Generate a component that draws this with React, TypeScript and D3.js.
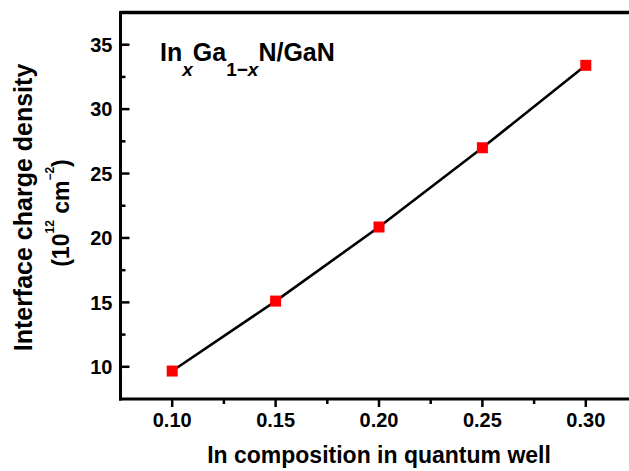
import React from 'react';
import * as d3 from 'd3';

// In composition vs interface charge density (10^12 cm^-2)
const composition = [0.10, 0.15, 0.20, 0.25, 0.30];
const chargeDensity = [9.67, 15.1, 20.85, 27.0, 33.4];

const xMajorTicks = [0.10, 0.15, 0.20, 0.25, 0.30];
const xMinorTicks = [0.125, 0.175, 0.225, 0.275];
const yMajorTicks = [10, 15, 20, 25, 30, 35];
const yMinorTicks = [12.5, 17.5, 22.5, 27.5, 32.5];

const font = '"Liberation Sans", Arial, sans-serif';

const App = () => {
    const width = 629;
    const height = 471;
    const left = 120.5;
    const top = 12.5;
    const bottom = 399;

    const x = d3.scaleLinear()
        .domain([0.075, 0.325])
        .range([left, left + 0.25 * 2068]);

    const y = d3.scaleLinear()
        .domain([7.5, 37.5])
        .range([bottom, top]);

    const points = composition.map((c, i) => ({ c, v: chargeDensity[i] }));

    const line = d3.line<{ c: number; v: number }>()
        .x(d => x(d.c))
        .y(d => y(d.v));

    const fmt = d3.format('.2f');
    const size = 11;

    return (
        <svg width={width} height={height} style={{ position: 'absolute', left: 0, top: 0, background: '#fff' }}>
            <g fontFamily={font} fontWeight="bold" fill="#000">
                {/* frame: top, left, bottom */}
                <line x1={left} x2={width} y1={top} y2={top} stroke="#000" strokeWidth={3.5} />
                <line x1={left} x2={left} y1={top - 1.5} y2={bottom + 1.5} stroke="#000" strokeWidth={3} />
                <line x1={left - 1.5} x2={width} y1={bottom} y2={bottom} stroke="#000" strokeWidth={3} />

                {yMajorTicks.map(t => (
                    <g key={'ym' + t}>
                        <line x1={left} x2={left + 9} y1={y(t)} y2={y(t)} stroke="#000" strokeWidth={2.5} />
                        <text x={left - 8} y={y(t)} dy="0.36em" textAnchor="end" fontSize={20}>{t}</text>
                    </g>
                ))}
                {yMinorTicks.map(t => (
                    <line key={'yn' + t} x1={left} x2={left + 5} y1={y(t)} y2={y(t)} stroke="#000" strokeWidth={2.5} />
                ))}

                {xMajorTicks.map(t => (
                    <g key={'xm' + t}>
                        <line x1={x(t)} x2={x(t)} y1={bottom} y2={bottom + 8} stroke="#000" strokeWidth={2.5} />
                        <text x={x(t)} y={426.5} textAnchor="middle" fontSize={20}>{fmt(t)}</text>
                    </g>
                ))}
                {xMinorTicks.map(t => (
                    <line key={'xn' + t} x1={x(t)} x2={x(t)} y1={bottom} y2={bottom + 5} stroke="#000" strokeWidth={2.5} />
                ))}

                <path d={line(points) || ''} fill="none" stroke="#000" strokeWidth={2.6} />
                {points.map(p => (
                    <rect key={p.c} x={x(p.c) - size / 2} y={y(p.v) - size / 2} width={size} height={size} fill="#ff0000" />
                ))}

                {/* title */}
                <text x={160} y={60.7} fontSize={25}>
                    <tspan>In</tspan>
                    <tspan dy={15} fontSize={19} fontStyle="italic">x</tspan>
                    <tspan dy={-15}>Ga</tspan>
                    <tspan dy={15} fontSize={19}>1−</tspan>
                    <tspan fontSize={19} fontStyle="italic">x</tspan>
                    <tspan dy={-15}>N/GaN</tspan>
                </text>

                {/* axis titles */}
                <text x={379} y={463} textAnchor="middle" fontSize={23}>In composition in quantum well</text>
                <text transform="translate(32,207.5) rotate(-90)" textAnchor="middle" fontSize={25}>Interface charge density</text>
                <text transform="translate(68.5,213) rotate(-90)" textAnchor="middle" fontSize={23}>
                    <tspan>(10</tspan>
                    <tspan dy={-15} fontSize={12}>12</tspan>
                    <tspan dy={15}> cm</tspan>
                    <tspan dy={-15} fontSize={12}>−2</tspan>
                    <tspan dy={15}>)</tspan>
                </text>
            </g>
        </svg>
    );
};

export default App;
